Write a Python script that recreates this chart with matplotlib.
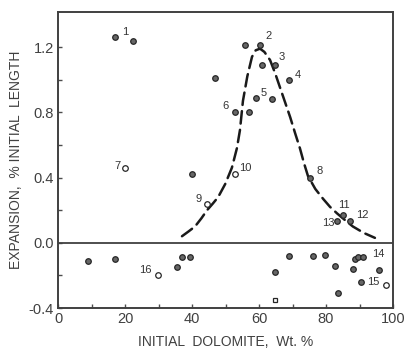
import numpy as np
import matplotlib
matplotlib.use('Agg')
from matplotlib import pyplot as plt

# filled/dotted points (dolomite wt %, expansion %)
dol = [17, 22.4, 40, 46.9, 55.8, 60.3, 60.9, 64.8, 69, 59.1, 63.9, 52.8, 57,
       75.2, 85.1, 83.2, 87.2,
       9, 17, 35.4, 37.1, 39.4, 64.8, 68.8, 76, 79.7, 82.7, 88, 88.7, 89.6, 91,
       95.8, 90.4, 83.5]
exp_ = [1.26, 1.24, 0.42, 1.01, 1.21, 1.21, 1.09, 1.09, 1.0, 0.89, 0.88, 0.80, 0.80,
        0.40, 0.17, 0.135, 0.135,
        -0.11, -0.10, -0.15, -0.09, -0.09, -0.18, -0.08, -0.08, -0.075, -0.14, -0.16,
        -0.10, -0.09, -0.09, -0.17, -0.24, -0.31]

# open points
dol_open = [20, 44.5, 52.8, 29.9, 97.9]
exp_open = [0.456, 0.24, 0.42, -0.20, -0.26]

# open square-ish point
dol_sq = [64.8]
exp_sq = [-0.35]

# dashed curve
curve_x = [37, 39, 40.9, 42.8, 44.5, 46.2, 47.8, 49.9, 51.9, 53.4, 54.3, 55.2, 56.5,
           57.9, 59.0, 60.3, 61.6, 63.3, 64.8, 66.3, 67.8, 69.3, 70.8, 72.2, 73.4,
           74.6, 76.8, 79.1, 81.2, 83.3, 85.6, 88, 91.3, 94.6]
curve_y = [0.04, 0.07, 0.10, 0.15, 0.20, 0.24, 0.28, 0.36, 0.46, 0.58, 0.69, 0.87, 1.02,
           1.14, 1.18, 1.19, 1.17, 1.12, 1.04, 0.95, 0.86, 0.77, 0.67, 0.58, 0.49,
           0.41, 0.33, 0.27, 0.22, 0.18, 0.14, 0.10, 0.06, 0.03]

# point numbers
lab_txt = ['1', '2', '3', '4', '5', '6', '7', '8', '9', '10', '11', '12', '13', '14', '15', '16']
lab_x = [20, 62.7, 66.9, 71.6, 61.5, 50.1, 17.6, 78.2, 41.8, 55.8, 85.4, 90.7, 80.6, 95.5, 94, 26]
lab_y = [1.29, 1.27, 1.14, 1.03, 0.92, 0.84, 0.47, 0.44, 0.27, 0.46, 0.23, 0.17, 0.12, -0.07, -0.24, -0.17]

plt.rcParams['font.family'] = ['Liberation Sans', 'DejaVu Sans']

fig = plt.figure(figsize=(4.06, 3.52), dpi=100)
ax = fig.add_axes([0.143, 0.125, 0.825, 0.841])

ax.plot(curve_x, curve_y, color='0.1', lw=1.8, ls=(0, (5, 2.5)), dash_capstyle='round',
        solid_joinstyle='round')
ax.axhline(0, color='0.25', lw=1.3)

ax.plot(dol, exp_, 'o', ms=4, mfc='0.4', mec='0.15', mew=0.9)
ax.plot(dol_open, exp_open, 'o', ms=4, mfc='white', mec='0.15', mew=0.9)
ax.plot(dol_sq, exp_sq, 's', ms=3.5, mfc='white', mec='0.15', mew=0.9)

for t, x, y in zip(lab_txt, lab_x, lab_y):
    ax.text(x, y, t, fontsize=8, ha='center', va='center', color='0.2')

ax.set_xlim(0, 100)
ax.set_ylim(-0.4, 1.415)
ax.set_xticks([0, 20, 40, 60, 80, 100])
ax.set_xticks(np.arange(10, 100, 20), minor=True)
ax.set_yticks([-0.4, 0.0, 0.4, 0.8, 1.2])
ax.set_yticks([-0.2, 0.2, 0.6, 1.0], minor=True)
ax.set_yticklabels(['-0.4', '0.0', '0.4', '0.8', '1.2'])
ax.tick_params(which='both', direction='in', length=3, width=1, color='0.3', labelsize=10.5,
               labelcolor='0.25', pad=3)
for s in ax.spines.values():
    s.set_linewidth(1.4)
    s.set_color('0.25')

ax.set_xlabel('INITIAL  DOLOMITE,  Wt. %', fontsize=10, color='0.25', labelpad=6)
ax.set_ylabel('EXPANSION,  % INITIAL  LENGTH', fontsize=10, color='0.25', labelpad=4)

fig.savefig('out.png', dpi=100)
